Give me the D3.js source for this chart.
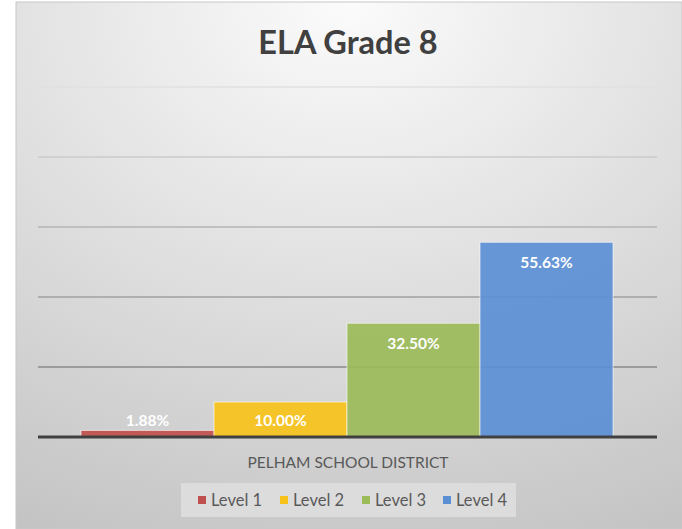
<html lang="en">
<head>
<meta charset="utf-8">
<title>ELA Grade 8</title>
<script src="https://cdn.jsdelivr.net/npm/d3@7"></script>
<style>
    body { margin: 0; background: #fff; }
    svg { display: block; }
    text { font-family: Lato, "Open Sans", sans-serif; }
</style>
</head>
<body>
<script>
    // chart data
    var category = "PELHAM SCHOOL DISTRICT";
    var levels = ["Level 1", "Level 2", "Level 3", "Level 4"];
    var values = [1.88, 10.00, 32.50, 55.63];
    var colors = ["#c0504d", "#f7c21a", "#9bbb59", "#5b8fd4"];
    var yTicks = [0, 20, 40, 60, 80, 100];

    var W = 682, H = 529;
    var svg = d3.select("body").append("svg")
        .attr("width", W)
        .attr("height", H);

    // background gradient
    var defs = svg.append("defs");
    var grad = defs.append("radialGradient")
        .attr("id", "bg")
        .attr("cx", "50%").attr("cy", "0%")
        .attr("r", "110%")
        .attr("fx", "50%").attr("fy", "0%");
    grad.append("stop").attr("offset", "0%").attr("stop-color", "#fbfbfb");
    grad.append("stop").attr("offset", "100%").attr("stop-color", "#c4c4c4");

    svg.append("rect")
        .attr("x", 16).attr("y", 2)
        .attr("width", W - 16).attr("height", H - 2)
        .attr("fill", "url(#bg)")
        .attr("stroke", "#c8c8c8")
        .attr("stroke-width", 1);

    // title
    svg.append("text")
        .attr("x", 348).attr("y", 54)
        .attr("text-anchor", "middle")
        .attr("font-size", "32.5px")
        .attr("font-weight", "bold")
        .attr("fill", "#404040")
        .text("ELA Grade 8");

    var plotL = 38, plotR = 657, plotT = 87, plotB = 437;

    var y = d3.scaleLinear().domain([0, 100]).range([plotB, plotT]);
    var x = d3.scaleBand().domain(levels).range([81, 613]).padding(0);

    // gridlines fade out towards the top
    var gridColor = d3.scaleLinear().domain([20, 100]).range(["#8a8a8a", "#e0e0e0"]);
    svg.selectAll("line.grid")
        .data(yTicks.slice(1))
        .enter()
        .append("line")
        .attr("class", "grid")
        .attr("x1", plotL).attr("x2", plotR)
        .attr("y1", function(d) { return y(d); })
        .attr("y2", function(d) { return y(d); })
        .attr("stroke", function(d) { return gridColor(d); })
        .attr("stroke-width", 1.3);

    // bars
    svg.selectAll("rect.bar")
        .data(values)
        .enter()
        .append("rect")
        .attr("class", "bar")
        .attr("x", function(d, i) { return x(levels[i]); })
        .attr("y", function(d) { return y(d); })
        .attr("width", x.bandwidth())
        .attr("height", function(d) { return plotB - y(d); })
        .attr("fill", function(d, i) { return colors[i]; })
        .attr("fill-opacity", 0.92)
        .attr("stroke", "#ffffff")
        .attr("stroke-opacity", 0.6)
        .attr("stroke-width", 1);

    // axis line
    svg.append("line")
        .attr("x1", plotL).attr("x2", plotR)
        .attr("y1", plotB).attr("y2", plotB)
        .attr("stroke", "#404040")
        .attr("stroke-width", 3);

    // data labels
    svg.selectAll("text.lbl")
        .data(values)
        .enter()
        .append("text")
        .attr("class", "lbl")
        .attr("x", function(d, i) { return x(levels[i]) + x.bandwidth() / 2; })
        .attr("y", function(d) { return Math.min(y(d) + 26, plotB - 11); })
        .attr("text-anchor", "middle")
        .attr("font-size", "15.5px")
        .attr("font-weight", "bold")
        .attr("fill", "#ffffff")
        .text(function(d) { return d.toFixed(2) + "%"; });

    // category label
    svg.append("text")
        .attr("x", 348).attr("y", 468)
        .attr("text-anchor", "middle")
        .attr("font-size", "15.5px")
        .attr("fill", "#595959")
        .text(category);

    // legend
    svg.append("rect")
        .attr("x", 181).attr("y", 483)
        .attr("width", 335).attr("height", 34)
        .attr("fill", "#dcdcdc");

    var legX = [198, 280, 362, 443];
    var lg = svg.selectAll("g.leg")
        .data(levels)
        .enter()
        .append("g")
        .attr("class", "leg")
        .attr("transform", function(d, i) { return "translate(" + legX[i] + ",500)"; });
    lg.append("rect")
        .attr("x", 0).attr("y", -4)
        .attr("width", 8).attr("height", 8)
        .attr("fill", function(d, i) { return colors[i]; });
    lg.append("text")
        .attr("x", 13).attr("y", 6)
        .attr("font-size", "16.5px")
        .attr("fill", "#595959")
        .text(function(d) { return d; });
</script>
</body>
</html>
